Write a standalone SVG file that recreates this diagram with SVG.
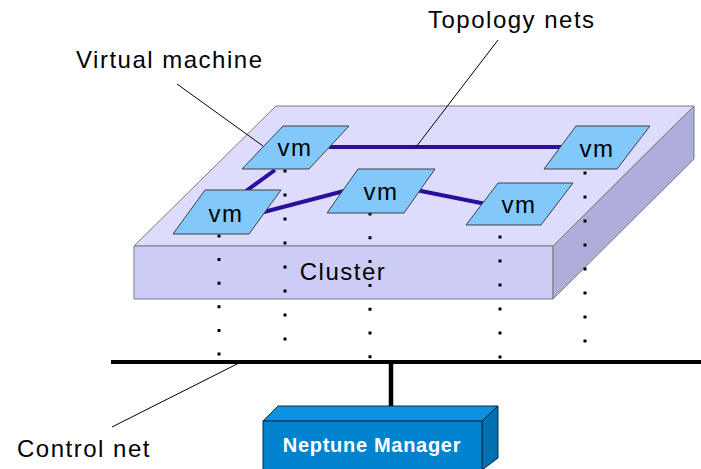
<svg xmlns="http://www.w3.org/2000/svg" width="701" height="469" viewBox="0 0 701 469">
<style>
text{font-family:"Liberation Sans",Arial,sans-serif;font-size:24px;letter-spacing:1.5px;fill:#000}
.vm{fill:#82c8fb;stroke:#404040;stroke-width:1}
.net{stroke:#2a0f9c;stroke-width:4;fill:none;stroke-linecap:butt}
.dot{stroke:#000;stroke-width:3;fill:none}
.lead{stroke:#000;stroke-width:1;fill:none}
.c{text-anchor:middle}
</style>
<rect width="701" height="469" fill="#fff"/>
<g id="cluster">
<polygon points="276,106 694,106 553,246 134,246" fill="#dddcfc" stroke="#7a7a7a" stroke-width="1"/>
<polygon points="134,246 553,246 553,299 134,299" fill="#ccccf6" stroke="#7a7a7a" stroke-width="1"/>
<polygon points="553,246 694,106 694,159 553,299" fill="#afaedb" stroke="#7a7a7a" stroke-width="1"/>
<text class="c" x="343" y="280">Cluster</text>
</g>
<g id="connectors">
<line class="net" x1="329" y1="147" x2="562" y2="147" stroke-width="3.5"/>
<line class="net" x1="275" y1="170" x2="246" y2="191"/>
<line class="net" x1="260" y1="213" x2="348" y2="190"/>
<line class="net" x1="416" y1="190" x2="486" y2="204"/>
<line class="dot" x1="219" y1="234.5" x2="219" y2="356" stroke-dasharray="3 20.6"/>
<line class="dot" x1="285" y1="169.5" x2="285" y2="341" stroke-dasharray="3 21"/>
<line class="dot" x1="370" y1="212.5" x2="370" y2="359" stroke-dasharray="3 20.8"/>
<line class="dot" x1="500" y1="235.5" x2="500" y2="359" stroke-dasharray="3 21"/>
<line class="dot" x1="585" y1="171.5" x2="585" y2="343" stroke-dasharray="3 21"/>
<line x1="111" y1="362" x2="701" y2="362" stroke="#000" stroke-width="4"/>
<line x1="391" y1="362" x2="391" y2="406" stroke="#000" stroke-width="4.5"/>
<line class="lead" x1="177" y1="84" x2="263" y2="146"/>
<line class="lead" x1="498" y1="40" x2="416" y2="147"/>
<line class="lead" x1="112" y1="427" x2="239" y2="363"/>
</g>
<g id="vm1"><polygon class="vm" points="283,126 349,126 309,169 242,169"/><text class="c" x="295" y="156">vm</text></g>
<g id="vm2"><polygon class="vm" points="205,190 281,190 249,234 173,234"/><text class="c" x="226" y="222">vm</text></g>
<g id="vm3"><polygon class="vm" points="358,169 435,169 404,213 327,213"/><text class="c" x="381" y="200">vm</text></g>
<g id="vm4"><polygon class="vm" points="498,183 573,183 541,225 466,225"/><text class="c" x="519" y="213">vm</text></g>
<g id="vm5"><polygon class="vm" points="576,126 650,126 617,169 544,169"/><text class="c" x="597" y="157">vm</text></g>
<g id="neptune-manager">
<polygon points="263,421 278,406 498,406 482,421" fill="#0c92e0" stroke="#0a2a40" stroke-width="1"/>
<polygon points="482,421 498,406 498,458 482,470" fill="#0070b2" stroke="#0a2a40" stroke-width="1"/>
<rect x="263" y="421" width="219" height="50" fill="#0283cf" stroke="#0a2a40" stroke-width="1"/>
<text class="c" x="372" y="452" style="font-size:20px;font-weight:bold;fill:#fff;letter-spacing:0.7px">Neptune Manager</text>
</g>
<g id="labels">
<text x="428" y="28">Topology nets</text>
<text x="76" y="68">Virtual machine</text>
<text x="17" y="457">Control net</text>
</g>
</svg>
